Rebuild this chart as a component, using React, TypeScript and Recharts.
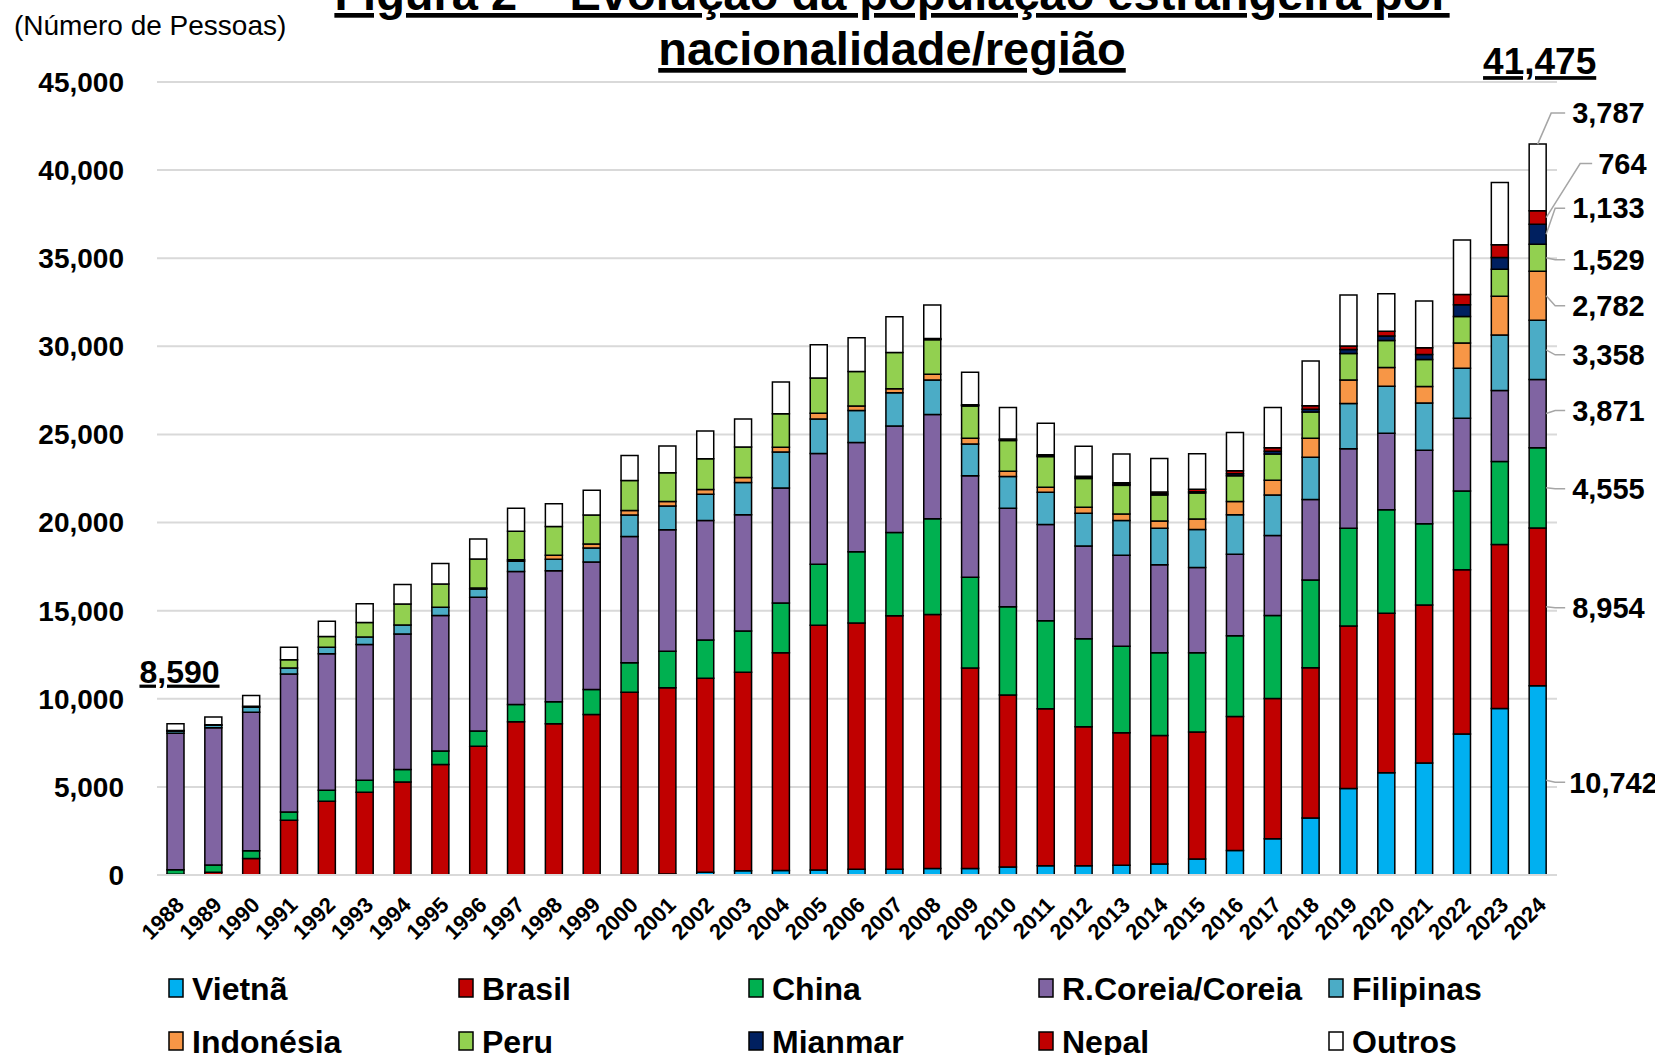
import React from "react";
import { BarChart, Bar, XAxis, YAxis, CartesianGrid, LabelList } from "recharts";

const YEARS = [
  "1988", "1989", "1990", "1991", "1992", "1993", "1994", "1995", "1996", "1997",
  "1998", "1999", "2000", "2001", "2002", "2003", "2004", "2005", "2006", "2007",
  "2008", "2009", "2010", "2011", "2012", "2013", "2014", "2015", "2016", "2017",
  "2018", "2019", "2020", "2021", "2022", "2023", "2024",
];

const VIETNA = [0, 0, 0, 0, 0, 0, 0, 0, 0, 0, 0, 0, 30, 50, 150, 240, 250, 283, 326, 326, 370, 370, 457, 522, 522, 550, 630, 913, 1391, 2050, 3237, 4913, 5809, 6358, 8005, 9450, 10742];
const BRASIL = [40, 150, 940, 3110, 4190, 4700, 5280, 6270, 7300, 8700, 8590, 9110, 10340, 10580, 11020, 11260, 12360, 13890, 13980, 14390, 14410, 11370, 9760, 8910, 7890, 7520, 7280, 7200, 7610, 7970, 8530, 9220, 9050, 8960, 9310, 9310, 8954];
const CHINA = [260, 420, 430, 470, 620, 680, 700, 770, 870, 980, 1240, 1410, 1670, 2070, 2170, 2350, 2830, 3460, 4040, 4720, 5440, 5150, 5000, 5000, 5000, 4910, 4700, 4500, 4570, 4700, 4970, 5550, 5870, 4620, 4480, 4710, 4555];
const COREIA = [7750, 7780, 7870, 7830, 7740, 7700, 7700, 7680, 7590, 7540, 7440, 7240, 7170, 6890, 6780, 6590, 6520, 6280, 6200, 6040, 5910, 5760, 5590, 5460, 5260, 5170, 5000, 4830, 4630, 4550, 4570, 4510, 4340, 4160, 4130, 4020, 3871];
const FILIPINAS = [120, 150, 280, 340, 380, 420, 510, 470, 470, 590, 650, 800, 1220, 1350, 1480, 1830, 2040, 1960, 1810, 1890, 1960, 1810, 1810, 1830, 1850, 1960, 2070, 2170, 2240, 2300, 2400, 2570, 2660, 2690, 2830, 3150, 3358];
const INDONESIA = [10, 0, 0, 0, 0, 0, 0, 0, 50, 80, 220, 220, 260, 260, 280, 280, 280, 330, 260, 220, 330, 330, 300, 280, 350, 370, 410, 590, 760, 830, 1070, 1330, 1070, 930, 1440, 2200, 2782];
const PERU = [20, 30, 60, 470, 600, 830, 1190, 1320, 1650, 1620, 1630, 1650, 1700, 1630, 1740, 1740, 1890, 2000, 1960, 2070, 1960, 1830, 1740, 1740, 1630, 1630, 1480, 1480, 1460, 1490, 1500, 1500, 1530, 1530, 1500, 1530, 1529];
const MIANMAR = [0, 0, 0, 0, 0, 0, 0, 0, 0, 0, 0, 0, 0, 0, 0, 0, 0, 0, 0, 0, 30, 30, 30, 40, 50, 60, 60, 70, 110, 150, 150, 230, 260, 290, 670, 670, 1133];
const NEPAL = [0, 0, 0, 0, 0, 0, 0, 0, 0, 0, 0, 0, 0, 0, 0, 0, 0, 0, 0, 0, 30, 40, 50, 60, 70, 90, 110, 130, 170, 200, 200, 200, 260, 380, 580, 720, 764];
const OUTROS = [390, 440, 600, 700, 870, 1060, 1100, 1170, 1140, 1300, 1300, 1410, 1410, 1520, 1570, 1590, 1800, 1890, 1910, 2020, 1900, 1840, 1790, 1790, 1710, 1630, 1900, 2020, 2170, 2290, 2540, 2890, 2140, 2660, 3090, 3530, 3787];

const Y_TICKS = [0, 5000, 10000, 15000, 20000, 25000, 30000, 35000, 40000, 45000];

// dy: vertical shift of the end label from the segment middle (declutter)
const SERIES = [
  { key: "vietna", name: "Vietnã", color: "#00b0f0", values: VIETNA, dy: 2 },
  { key: "brasil", name: "Brasil", color: "#c00000", values: BRASIL, dy: 1 },
  { key: "china", name: "China", color: "#00b050", values: CHINA, dy: 1 },
  { key: "coreia", name: "R.Coreia/Coreia", color: "#8064a2", values: COREIA, dy: -3 },
  { key: "filipinas", name: "Filipinas", color: "#4bacc6", values: FILIPINAS, dy: 5 },
  { key: "indonesia", name: "Indonésia", color: "#f79646", values: INDONESIA, dy: 10 },
  { key: "peru", name: "Peru", color: "#92d050", values: PERU, dy: 2 },
  { key: "mianmar", name: "Mianmar", color: "#002060", values: MIANMAR, dy: -26 },
  { key: "nepal", name: "Nepal", color: "#c00000", values: NEPAL, dy: -54 },
  { key: "outros", name: "Outros", color: "#ffffff", values: OUTROS, dy: 0 },
];

const LEGEND_ORDER = [
  ["vietna", "brasil", "china", "coreia", "filipinas"],
  ["indonesia", "peru", "mianmar", "nepal", "outros"],
];

const data = YEARS.map((year, i) => {
  const row: Record<string, string | number> = { year };
  SERIES.forEach((s) => (row[s.key] = s.values[i]));
  return row;
});

const totals = YEARS.map((_, i) => SERIES.reduce((sum, s) => sum + s.values[i], 0));

const W = 1655;
const H = 1055;
const MARGIN = { top: 82, right: 98, bottom: 100, left: 17 };
const Y_AXIS_W = 140;
const PLOT_LEFT = MARGIN.left + Y_AXIS_W;
const BAND = (W - MARGIN.right - PLOT_LEFT) / YEARS.length;

const FONT = "Arial, 'Liberation Sans', sans-serif";
const fmt = (v: number) => v.toLocaleString("en-US");
const LAST = YEARS.length - 1;

function YearTick({ x, y, payload }: any) {
  return (
    <g transform={`translate(${x + 4},${y + 26}) rotate(-45)`}>
      <text textAnchor="end" dy="0.35em" fontSize={22} fontWeight="bold" fill="#000" fontFamily={FONT}>
        {payload.value}
      </text>
    </g>
  );
}

function endLabel(s: (typeof SERIES)[number]) {
  return (props: any) => {
    const x = Number(props.x);
    const y = Number(props.y);
    const w = Number(props.width);
    const h = Number(props.height);
    // zero-height bars are skipped by the label list, so find the category from the position
    const index = Math.floor((x + w / 2 - PLOT_LEFT) / BAND);
    const items: React.ReactNode[] = [];
    const isOutros = s.key === "outros";

    if (isOutros && (index === 0 || index === LAST)) {
      const big = index === LAST;
      items.push(
        <text
          key="tot"
          x={x + w / 2 + (big ? 2 : 4)}
          y={y - (big ? 70 : 41)}
          textAnchor="middle"
          fontSize={big ? 37 : 32}
          fontWeight="bold"
          fontFamily={FONT}
          textDecoration="underline"
          fill="#000"
        >
          {fmt(totals[index])}
        </text>
      );
    }
    if (index !== LAST) return items.length ? <g>{items}</g> : null;

    const rx = x + w;
    const mid = y + h / 2;
    let path: string;
    let ly: number;
    let tx = rx + 26;
    if (isOutros) {
      ly = y - 31;
      path = `M${x + w / 2},${y} L${rx + 5},${ly} L${rx + 19},${ly}`;
    } else if (s.key === "nepal") {
      ly = mid + s.dy;
      path = `M${rx},${mid} L${rx + 34},${ly} L${rx + 46},${ly}`;
      tx = rx + 52;
    } else {
      ly = mid + s.dy;
      path = `M${rx},${mid} L${rx + 9},${ly} L${rx + 19},${ly}`;
    }
    if (s.key === "vietna") tx = rx + 23;
    items.push(<path key="ln" d={path} stroke="#a6a6a6" strokeWidth={1.5} fill="none" />);
    items.push(
      <text key="lb" x={tx} y={ly} dy="0.35em" fontSize={29} fontWeight="bold" fontFamily={FONT} fill="#000">
        {fmt(s.values[index])}
      </text>
    );
    return <g>{items}</g>;
  };
}

export default function App() {
  const byKey = Object.fromEntries(SERIES.map((s) => [s.key, s]));
  return (
    <div style={{ position: "absolute", left: 0, top: 0, width: W, height: H, background: "#fff", fontFamily: FONT }}>
      <BarChart width={W} height={H} data={data} margin={MARGIN} barSize={17}>
        <CartesianGrid vertical={false} stroke="#d9d9d9" strokeWidth={2} />
        <XAxis
          dataKey="year"
          height={80}
          tickLine={false}
          tickSize={0}
          tickMargin={0}
          interval={0}
          axisLine={{ stroke: "#d9d9d9", strokeWidth: 2 }}
          tick={<YearTick />}
        />
        <YAxis
          width={Y_AXIS_W}
          domain={[0, 45000]}
          ticks={Y_TICKS}
          tickFormatter={fmt}
          tickLine={false}
          axisLine={false}
          tickSize={0}
          tickMargin={33}
          tick={{ fontSize: 28, fontWeight: "bold", fill: "#000", fontFamily: FONT }}
        />
        {SERIES.map((s) => (
          <Bar
            key={s.key}
            dataKey={s.key}
            name={s.name}
            stackId="a"
            fill={s.color}
            stroke="#000"
            strokeWidth={1.5}
            isAnimationActive={false}
          >
            <LabelList dataKey={s.key} content={endLabel(s)} />
          </Bar>
        ))}
      </BarChart>

      <svg width={W} height={H} style={{ position: "absolute", left: 0, top: 0, pointerEvents: "none" }}>
        <text x={14} y={35} fontSize={28} fontFamily={FONT} fill="#000">
          (Número de Pessoas)
        </text>
        <text x={892} y={10} textAnchor="middle" fontSize={47} fontWeight="bold" fontFamily={FONT} textDecoration="underline" fill="#000">
          Figura 2 – Evolução da população estrangeira por
        </text>
        <text x={892} y={65} textAnchor="middle" fontSize={47} fontWeight="bold" fontFamily={FONT} textDecoration="underline" fill="#000">
          nacionalidade/região
        </text>
        {LEGEND_ORDER.map((row, r) =>
          row.map((k, c) => {
            const s = byKey[k];
            const lx = 169 + c * 290;
            const cy = 988 + r * 53;
            return (
              <g key={k}>
                <rect x={lx} y={cy - 9} width={14} height={18} fill={s.color} stroke="#000" strokeWidth={1.5} />
                <text x={lx + 23} y={cy} dy="0.36em" fontSize={32} fontWeight="bold" fontFamily={FONT} fill="#000">
                  {s.name}
                </text>
              </g>
            );
          })
        )}
      </svg>
    </div>
  );
}
